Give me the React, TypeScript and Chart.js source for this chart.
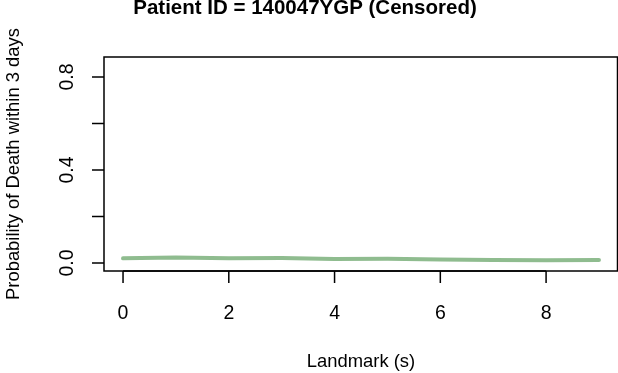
import React, { useEffect, useRef } from "react";
import { Chart, registerables } from "chart.js";

Chart.register(...registerables);

const LANDMARKS = [0, 1, 2, 3, 4, 5, 6, 7, 8, 9];
const PROB = [0.02, 0.024, 0.02, 0.021, 0.017, 0.018, 0.015, 0.013, 0.012, 0.013];
const X_TICKS = [0, 2, 4, 6, 8];
const Y_TICKS = [0, 0.2, 0.4, 0.6, 0.8];
const Y_TICK_LABELS = ["0.0", "", "0.4", "", "0.8"];
const TITLE = "Patient ID = 140047YGP (Censored)";
const X_TITLE = "Landmark (s)";
const Y_TITLE = "Probability of Death within 3 days";

const FONT = '"Liberation Sans", Arial, Helvetica, sans-serif';

const axesPlugin = {
  id: "rAxes",
  afterDraw(chart: any) {
    const { ctx, chartArea } = chart;
    const xs = chart.scales.x;
    const ys = chart.scales.y;
    const { left, right, top, bottom } = chartArea;
    ctx.save();
    ctx.strokeStyle = "#000";
    ctx.fillStyle = "#000";
    ctx.lineWidth = 1.5;
    ctx.strokeRect(left, top, right - left - 0.5, bottom - top);
    const tick = 12;
    // x axis ticks
    ctx.font = `19.5px ${FONT}`;
    ctx.textAlign = "center";
    ctx.textBaseline = "alphabetic";
    ctx.beginPath();
    X_TICKS.forEach((v) => {
      const px = xs.getPixelForValue(v);
      ctx.moveTo(px, bottom);
      ctx.lineTo(px, bottom + tick);
    });
    ctx.moveTo(xs.getPixelForValue(X_TICKS[0]), bottom);
    ctx.lineTo(xs.getPixelForValue(X_TICKS[X_TICKS.length - 1]), bottom);
    ctx.stroke();
    X_TICKS.forEach((v) => {
      const px = xs.getPixelForValue(v);
      ctx.fillText(String(v), px, 318.5);
    });
    // y axis ticks
    ctx.beginPath();
    Y_TICKS.forEach((v) => {
      const py = ys.getPixelForValue(v);
      ctx.moveTo(left, py);
      ctx.lineTo(left - tick, py);
    });
    ctx.stroke();
    Y_TICKS.forEach((v, i) => {
      const lab = Y_TICK_LABELS[i];
      if (!lab) return;
      const py = ys.getPixelForValue(v);
      ctx.save();
      ctx.translate(73, py);
      ctx.rotate(-Math.PI / 2);
      ctx.textAlign = "center";
      ctx.textBaseline = "alphabetic";
      ctx.fillText(lab, 0, 0);
      ctx.restore();
    });
    // axis titles
    ctx.font = `18.4px ${FONT}`;
    ctx.textAlign = "center";
    ctx.fillText(X_TITLE, (left + right) / 2, 367);
    ctx.save();
    ctx.translate(19, (top + bottom) / 2);
    ctx.rotate(-Math.PI / 2);
    ctx.fillText(Y_TITLE, 0, 0);
    ctx.restore();
    // main title
    ctx.font = `bold 20.5px ${FONT}`;
    ctx.fillText(TITLE, 305, 13.5);
    ctx.restore();
  },
};

export default function App() {
  const ref = useRef<HTMLCanvasElement | null>(null);
  useEffect(() => {
    if (!ref.current) return;
    const chart = new Chart(ref.current, {
      type: "line",
      data: {
        datasets: [
          {
            data: LANDMARKS.map((x, i) => ({ x, y: PROB[i] })),
            borderColor: "#8FBC8F",
            borderWidth: 4,
            pointRadius: 0,
            tension: 0,
            borderCapStyle: "round",
            borderJoinStyle: "round",
          },
        ],
      },
      options: {
        animation: false,
        responsive: false,
        devicePixelRatio: 1,
        layout: { padding: { left: 104, top: 57, right: 0, bottom: 102 } },
        plugins: { legend: { display: false }, tooltip: { enabled: false } },
        scales: {
          x: { type: "linear", min: -0.36, max: 9.36, display: false },
          y: { type: "linear", min: -0.0344, max: 0.886, display: false },
        },
      },
      plugins: [axesPlugin],
    } as any);
    return () => chart.destroy();
  }, []);
  return (
    <div style={{ position: "fixed", left: 0, top: 0, width: 618, height: 373, background: "#fff" }}>
      <canvas ref={ref} width={618} height={373} style={{ width: 618, height: 373 }} />
    </div>
  );
}
